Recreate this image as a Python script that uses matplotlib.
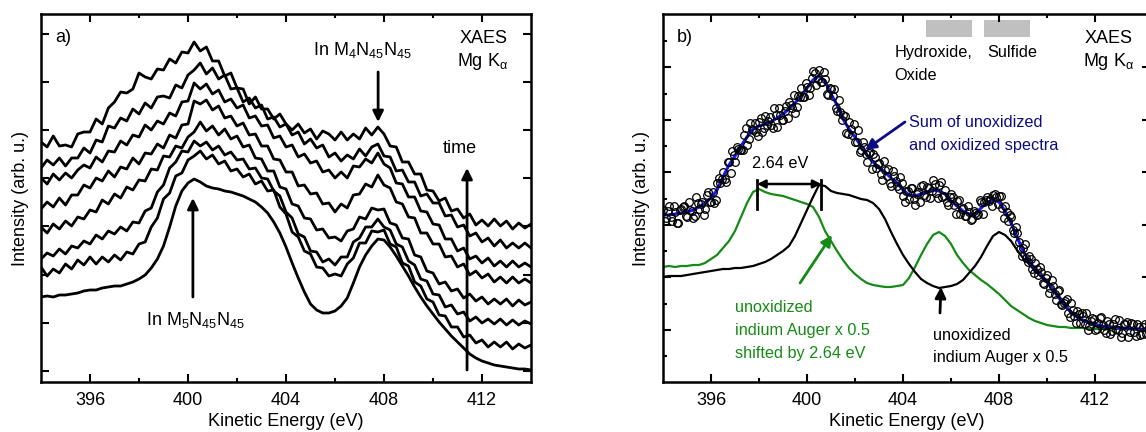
import numpy as np
import matplotlib.pyplot as plt
from matplotlib.patches import Rectangle

plt.rcParams['font.family'] = ['Liberation Sans', 'DejaVu Sans']
plt.rcParams['mathtext.default'] = 'regular'

# ---- panel a: XAES spectra taken one after another (scan1 = first, bottom)
energy_a = np.arange(394.0, 414.01, 0.25)

scan1 = [85, 86, 85, 87, 87, 88, 89, 91, 92, 92,
         94, 95, 96, 96, 98, 100, 103, 107, 114, 123,
         136, 155, 176, 191, 199, 203, 200, 196, 194, 193,
         191, 190, 188, 186, 183, 180, 175, 169, 160, 149,
         135, 119, 104, 90, 78, 72, 69, 69, 71, 76,
         84, 99, 115, 127, 136, 143, 142, 135, 126, 116,
         106, 95, 85, 76, 68, 60, 53, 46, 40, 34,
         28, 24, 21, 19, 17, 16, 15, 14, 13, 13, 12]
scan2 = [115, 106, 113, 109, 118, 113, 122, 117, 125, 118,
         125, 120, 127, 122, 130, 128, 138, 140, 155, 164,
         183, 189, 206, 209, 222, 226, 231, 223, 227, 218,
         221, 211, 213, 205, 208, 198, 201, 191, 192, 175,
         168, 150, 145, 131, 128, 115, 114, 106, 108, 106,
         118, 124, 139, 139, 151, 150, 152, 138, 135, 119,
         116, 100, 96, 83, 80, 67, 66, 55, 55, 45,
         47, 39, 42, 35, 40, 35, 40, 33, 38, 34, 37]
scan3 = [123, 129, 126, 133, 128, 136, 134, 141, 138, 147,
         143, 151, 148, 155, 151, 160, 159, 171, 174, 190,
         197, 214, 220, 231, 230, 241, 236, 240, 232, 236,
         227, 230, 222, 223, 213, 214, 204, 203, 191, 186,
         170, 164, 148, 145, 131, 130, 120, 123, 117, 125,
         125, 140, 144, 155, 155, 163, 155, 152, 138, 135,
         121, 117, 103, 101, 88, 87, 75, 77, 68, 70,
         61, 65, 59, 63, 58, 63, 57, 62, 57, 61, 58]
scan4 = [155, 149, 158, 153, 161, 156, 165, 163, 172, 170,
         182, 178, 188, 184, 195, 192, 202, 201, 213, 212,
         226, 225, 236, 234, 245, 250, 260, 251, 256, 247,
         253, 243, 246, 235, 237, 224, 223, 211, 211, 195,
         193, 178, 176, 164, 163, 152, 153, 144, 145, 141,
         151, 153, 165, 163, 174, 172, 173, 159, 157, 144,
         143, 127, 125, 111, 109, 98, 100, 91, 93, 84,
         88, 81, 85, 78, 83, 78, 83, 76, 82, 77, 80]
scan5 = [173, 180, 175, 184, 177, 187, 187, 197, 194, 204,
         201, 211, 205, 215, 213, 224, 218, 229, 228, 238,
         234, 247, 244, 257, 258, 281, 278, 282, 272, 276,
         264, 266, 256, 259, 247, 248, 236, 236, 223, 222,
         210, 210, 196, 197, 188, 189, 178, 179, 170, 178,
         174, 187, 188, 198, 195, 207, 197, 194, 180, 178,
         165, 164, 149, 149, 138, 138, 125, 126, 115, 118,
         107, 111, 104, 108, 100, 105, 99, 105, 99, 103, 99]
scan6 = [204, 198, 208, 202, 209, 204, 212, 217, 214, 225,
         220, 231, 230, 241, 237, 247, 245, 257, 252, 261,
         258, 269, 266, 280, 281, 299, 293, 298, 288, 292,
         280, 283, 274, 277, 264, 266, 256, 257, 244, 246,
         235, 237, 225, 228, 219, 221, 210, 212, 204, 210,
         204, 216, 215, 223, 219, 229, 218, 214, 199, 198,
         185, 185, 171, 170, 158, 157, 143, 143, 131, 134,
         123, 126, 119, 124, 116, 121, 115, 121, 115, 119, 115]
scan7 = [214, 222, 217, 224, 216, 224, 224, 234, 229, 242,
         240, 256, 254, 264, 261, 273, 268, 279, 274, 285,
         286, 284, 297, 294, 307, 312, 319, 308, 314, 303,
         307, 293, 294, 280, 284, 274, 277, 263, 265, 255,
         258, 247, 250, 238, 243, 234, 237, 225, 229, 221,
         227, 223, 233, 226, 235, 238, 226, 225, 211, 212,
         200, 200, 186, 188, 179, 179, 166, 167, 155, 157,
         146, 149, 140, 144, 136, 142, 134, 139, 134, 139, 134]
scan8 = [240, 235, 246, 236, 237, 235, 248, 250, 250, 263,
         258, 274, 280, 290, 289, 293, 309, 305, 303, 313,
         312, 323, 319, 330, 329, 340, 331, 335, 321, 321,
         306, 309, 294, 293, 278, 285, 273, 273, 263, 268,
         258, 252, 258, 249, 253, 243, 251, 248, 242, 250,
         242, 248, 243, 254, 247, 255, 248, 236, 235, 220,
         220, 208, 208, 192, 191, 181, 184, 171, 173, 164,
         168, 157, 162, 156, 163, 156, 161, 153, 159, 154, 158]
scans = [scan1, scan2, scan3, scan4, scan5, scan6, scan7, scan8]

# ---- panel b: measured points, fit sum and the two reference spectra
energy_b = np.arange(394.0, 414.26, 0.25)
unoxidized = [105, 106, 106, 106, 107, 108, 109, 110, 111, 112,
              113, 113, 114, 114, 115, 116, 118, 120, 123, 127,
              131, 136, 146, 159, 172, 185, 197, 196, 191, 189,
              188, 187, 185, 183, 182, 179, 173, 163, 150, 138,
              127, 118, 110, 103, 99, 96, 94, 95, 96, 98,
              102, 109, 116, 125, 136, 146, 150, 147, 141, 132,
              124, 118, 111, 106, 101, 93, 86, 77, 69, 65,
              61, 59, 57, 56, 55, 54, 54, 53, 53, 53, 53, 53]
shifted = [115, 116, 115, 116, 116, 117, 117, 119, 123, 127,
           134, 141, 151, 165, 179, 190, 193, 190, 188, 187,
           186, 184, 182, 180, 178, 175, 165, 151, 141, 131,
           122, 114, 108, 103, 99, 97, 96, 95, 95, 96,
           97, 104, 115, 127, 138, 147, 150, 146, 138, 127,
           119, 112, 107, 102, 98, 93, 88, 82, 76, 72,
           68, 64, 61, 59, 57, 56, 55, 55, 54, 54,
           54, 53, 53, 53, 53, 53, 53, 53, 53, 52, 52, 52]
fit_sum = [167, 167, 168, 169, 170, 172, 175, 179, 184, 192,
           205, 217, 226, 236, 245, 253, 256, 258, 260, 264,
           268, 273, 279, 286, 294, 302, 306, 301, 288, 277,
           263, 253, 245, 236, 227, 220, 214, 210, 204, 199,
           192, 187, 186, 188, 190, 192, 191, 188, 181, 176,
           171, 168, 168, 174, 179, 182, 180, 171, 159, 145,
           131, 121, 113, 106, 100, 92, 84, 76, 70, 65,
           62, 59, 58, 56, 55, 55, 54, 54, 53, 53, 52, 52]

# measured points (two interleaved runs of read-off values)
energy_pts_1 = np.arange(394.0, 414.26, 0.125)
measured_1 = [172, 164, 176, 161, 170, 159, 173, 176, 165, 172,
              164, 185, 173, 180, 173, 190, 180, 179, 199, 199,
              210, 200, 220, 231, 220, 233, 232, 247, 237, 259,
              252, 250, 260, 250, 266, 261, 257, 274, 255, 267,
              262, 276, 280, 274, 269, 286, 294, 285, 295, 294,
              311, 297, 312, 300, 303, 287, 293, 293, 271, 270,
              267, 249, 260, 247, 240, 252, 232, 235, 220, 230,
              228, 214, 219, 202, 212, 213, 196, 206, 196, 205,
              186, 191, 183, 194, 177, 190, 196, 187, 195, 184,
              202, 189, 197, 185, 192, 177, 188, 177, 181, 168,
              174, 166, 170, 163, 169, 168, 180, 180, 185, 183,
              187, 185, 186, 174, 176, 161, 165, 149, 149, 133,
              134, 124, 126, 113, 119, 107, 110, 98, 107, 94,
              96, 82, 92, 77, 81, 69, 79, 66, 71, 59,
              66, 69, 56, 64, 52, 59, 65, 52, 61, 48,
              58, 53, 62, 49, 58, 45, 59, 50, 58, 47,
              55, 48, 59]
energy_pts_2 = np.arange(394.0625, 414.2, 0.125)
measured_2 = [161, 171, 165, 176, 159, 172, 175, 166, 180, 171,
              166, 179, 178, 167, 187, 180, 190, 182, 204, 203,
              203, 220, 209, 227, 235, 232, 232, 254, 243, 253,
              259, 246, 264, 254, 257, 265, 254, 267, 274, 262,
              271, 264, 277, 287, 275, 285, 285, 299, 287, 304,
              309, 303, 300, 310, 288, 294, 286, 274, 282, 262,
              266, 248, 253, 258, 240, 230, 240, 228, 229, 213,
              225, 218, 208, 221, 206, 199, 211, 201, 193, 199,
              180, 191, 194, 183, 188, 180, 197, 185, 194, 191,
              198, 184, 200, 186, 180, 185, 185, 168, 182, 173,
              166, 176, 162, 171, 167, 182, 168, 182, 181, 176,
              188, 178, 186, 164, 170, 167, 152, 155, 140, 126,
              138, 120, 123, 109, 113, 115, 99, 104, 89, 102,
              88, 91, 78, 79, 83, 65, 72, 59, 68, 69,
              58, 52, 61, 63, 53, 64, 57, 49, 58, 51,
              63, 52, 45, 58, 60, 50, 58, 46, 55, 48,
              58, 53]

GREEN = '#168a16'
NAVY = '#0c0c82'
BLUE = '#1414ff'

fig = plt.figure(figsize=(11.46, 4.32), dpi=100)
ax1 = fig.add_axes([41 / 1146, 50 / 432, 490 / 1146, 368 / 432])
ax2 = fig.add_axes([663 / 1146, 50 / 432, 487 / 1146, 368 / 432])


def style(ax, xmax):
    ax.set_xlim(394, xmax)
    ax.set_ylim(0, 368)
    ax.set_xticks([396, 400, 404, 408, 412])
    ax.set_xticks([398, 402, 406, 410], minor=True)
    ax.tick_params(which='both', direction='in', top=True, right=True,
                   width=1.5, labelsize=13)
    ax.tick_params(axis='x', pad=7)
    ax.tick_params(which='major', length=5.8)
    ax.tick_params(which='minor', length=2.6)
    ax.tick_params(axis='y', labelleft=False)
    for s in ax.spines.values():
        s.set_linewidth(1.8)
    ax.set_xlabel('Kinetic Energy (eV)', fontsize=13)
    ax.xaxis.set_label_coords(0.5, -0.083)
    ax.set_ylabel('Intensity (arb. u.)', fontsize=13)


# ---------------- panel a
style(ax1, 414)
ax1.set_yticks([11 + 48.2 * k for k in range(8)])
ax1.set_yticks([], minor=True)
ax1.yaxis.set_label_coords(-0.025, 0.5)
for s in scans:
    ax1.plot(energy_a, s, color='k', lw=2.0)

arr = dict(arrowstyle='-|>', color='k', lw=2, mutation_scale=16,
           shrinkA=0, shrinkB=0)
ax1.text(394.6, 345, 'a)', fontsize=13, va='center')
ax1.text(411.1, 339, 'XAES', fontsize=13)
ax1.text(411.0, 316, 'Mg K$_{α}$', fontsize=13)
ax1.text(405.1, 327, 'In M$_4$N$_{45}$N$_{45}$', fontsize=13)
ax1.annotate('', xy=(407.76, 260), xytext=(407.76, 310), arrowprops=arr)
ax1.text(410.4, 229, 'time', fontsize=13)
ax1.annotate('', xy=(411.39, 214), xytext=(411.39, 12), arrowprops=arr)
ax1.text(398.3, 57, 'In M$_5$N$_{45}$N$_{45}$', fontsize=13)
ax1.annotate('', xy=(400.2, 184), xytext=(400.2, 85), arrowprops=arr)

# ---------------- panel b
style(ax2, 414.29)
ax2.set_yticks([52.25 + 52.5 * k for k in range(6)])
ax2.set_yticks([26 + 52.5 * k for k in range(7)], minor=True)
ax2.yaxis.set_label_coords(-0.027, 0.5)

ax2.plot(energy_b, shifted, color=GREEN, lw=1.6)
ax2.plot(energy_b, unoxidized, color='k', lw=1.6)
ax2.plot(energy_b, fit_sum, color=BLUE, lw=2.2)
for e, m in [(energy_pts_1, measured_1), (energy_pts_2, measured_2)]:
    ax2.plot(e, m, 'o', mfc='none', mec='k', ms=5.5, mew=0.9)

ax2.add_patch(Rectangle((404.96, 345), 1.92, 17, color='#c0c0c0', lw=0))
ax2.add_patch(Rectangle((407.38, 345), 1.92, 17, color='#c0c0c0', lw=0))
ax2.text(403.63, 325, 'Hydroxide,', fontsize=11.7)
ax2.text(403.63, 302, 'Oxide', fontsize=11.7)
ax2.text(407.5, 325, 'Sulfide', fontsize=11.7)
ax2.text(394.58, 345, 'b)', fontsize=13, va='center')
ax2.text(411.58, 339, 'XAES', fontsize=13)
ax2.text(411.5, 316, 'Mg K$_{α}$', fontsize=13)

ax2.text(404.25, 255, 'Sum of unoxidized', fontsize=11.7, color=NAVY)
ax2.text(404.25, 232, 'and oxidized spectra', fontsize=11.7, color=NAVY)
ax2.annotate('', xy=(402.42, 232), xytext=(404.08, 260),
             arrowprops=dict(arrowstyle='-|>', color=NAVY, lw=2,
                             mutation_scale=16, shrinkA=0, shrinkB=0))

ax2.text(398.88, 214, '2.64 eV', fontsize=11.7, ha='center')
ax2.annotate('', xy=(397.92, 198), xytext=(400.6, 198),
             arrowprops=dict(arrowstyle='<|-|>', color='k', lw=1.8,
                             mutation_scale=12, shrinkA=0, shrinkB=0))
ax2.plot([397.92, 397.92], [173, 202], color='k', lw=2)
ax2.plot([400.6, 400.6], [173, 202], color='k', lw=2)

ax2.text(397.0, 70, 'unoxidized', fontsize=11.7, color=GREEN)
ax2.text(397.0, 47, 'indium Auger x 0.5', fontsize=11.7, color=GREEN)
ax2.text(397.0, 24, 'shifted by 2.64 eV', fontsize=11.7, color=GREEN)
ax2.annotate('', xy=(401.04, 147), xytext=(399.71, 99),
             arrowprops=dict(arrowstyle='-|>', color=GREEN, lw=2,
                             mutation_scale=16, shrinkA=0, shrinkB=0))

ax2.text(405.25, 42, 'unoxidized', fontsize=11.7)
ax2.text(405.25, 20, 'indium Auger x 0.5', fontsize=11.7)
ax2.annotate('', xy=(405.58, 95), xytext=(405.54, 69), arrowprops=arr)

fig.savefig('out.png', dpi=100)
